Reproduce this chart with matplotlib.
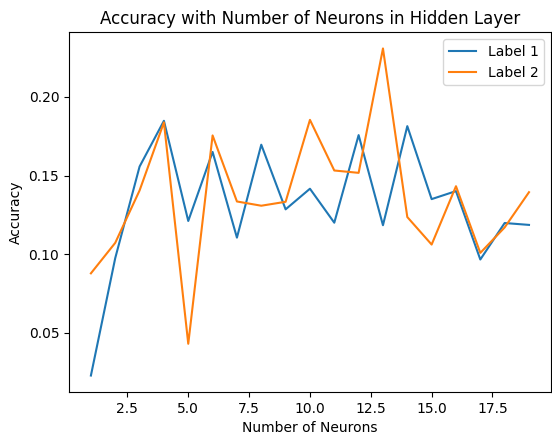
import matplotlib
matplotlib.use('Agg')
import matplotlib.pyplot as plt

neurons = list(range(1, 20))
label1 = [0.0228, 0.0975, 0.1557, 0.1848, 0.1211, 0.1650, 0.1105, 0.1696, 0.1285,
          0.1416, 0.1200, 0.1757, 0.1184, 0.1814, 0.1350, 0.1401, 0.0966, 0.1198, 0.1186]
label2 = [0.0878, 0.1072, 0.1405, 0.1838, 0.0430, 0.1755, 0.1335, 0.1308, 0.1333,
          0.1854, 0.1532, 0.1517, 0.2308, 0.1236, 0.1061, 0.1432, 0.1008, 0.1170, 0.1394]

fig, ax = plt.subplots(figsize=(5.52, 4.34), dpi=100)
fig.subplots_adjust(left=0.125, right=0.998, bottom=0.097, top=0.926)

ax.plot(neurons, label1, label='Label 1')
ax.plot(neurons, label2, label='Label 2')
ax.set_title('Accuracy with Number of Neurons in Hidden Layer')
ax.set_xlabel('Number of Neurons')
ax.set_ylabel('Accuracy')
ax.legend()

fig.savefig('out.png', dpi=100)
